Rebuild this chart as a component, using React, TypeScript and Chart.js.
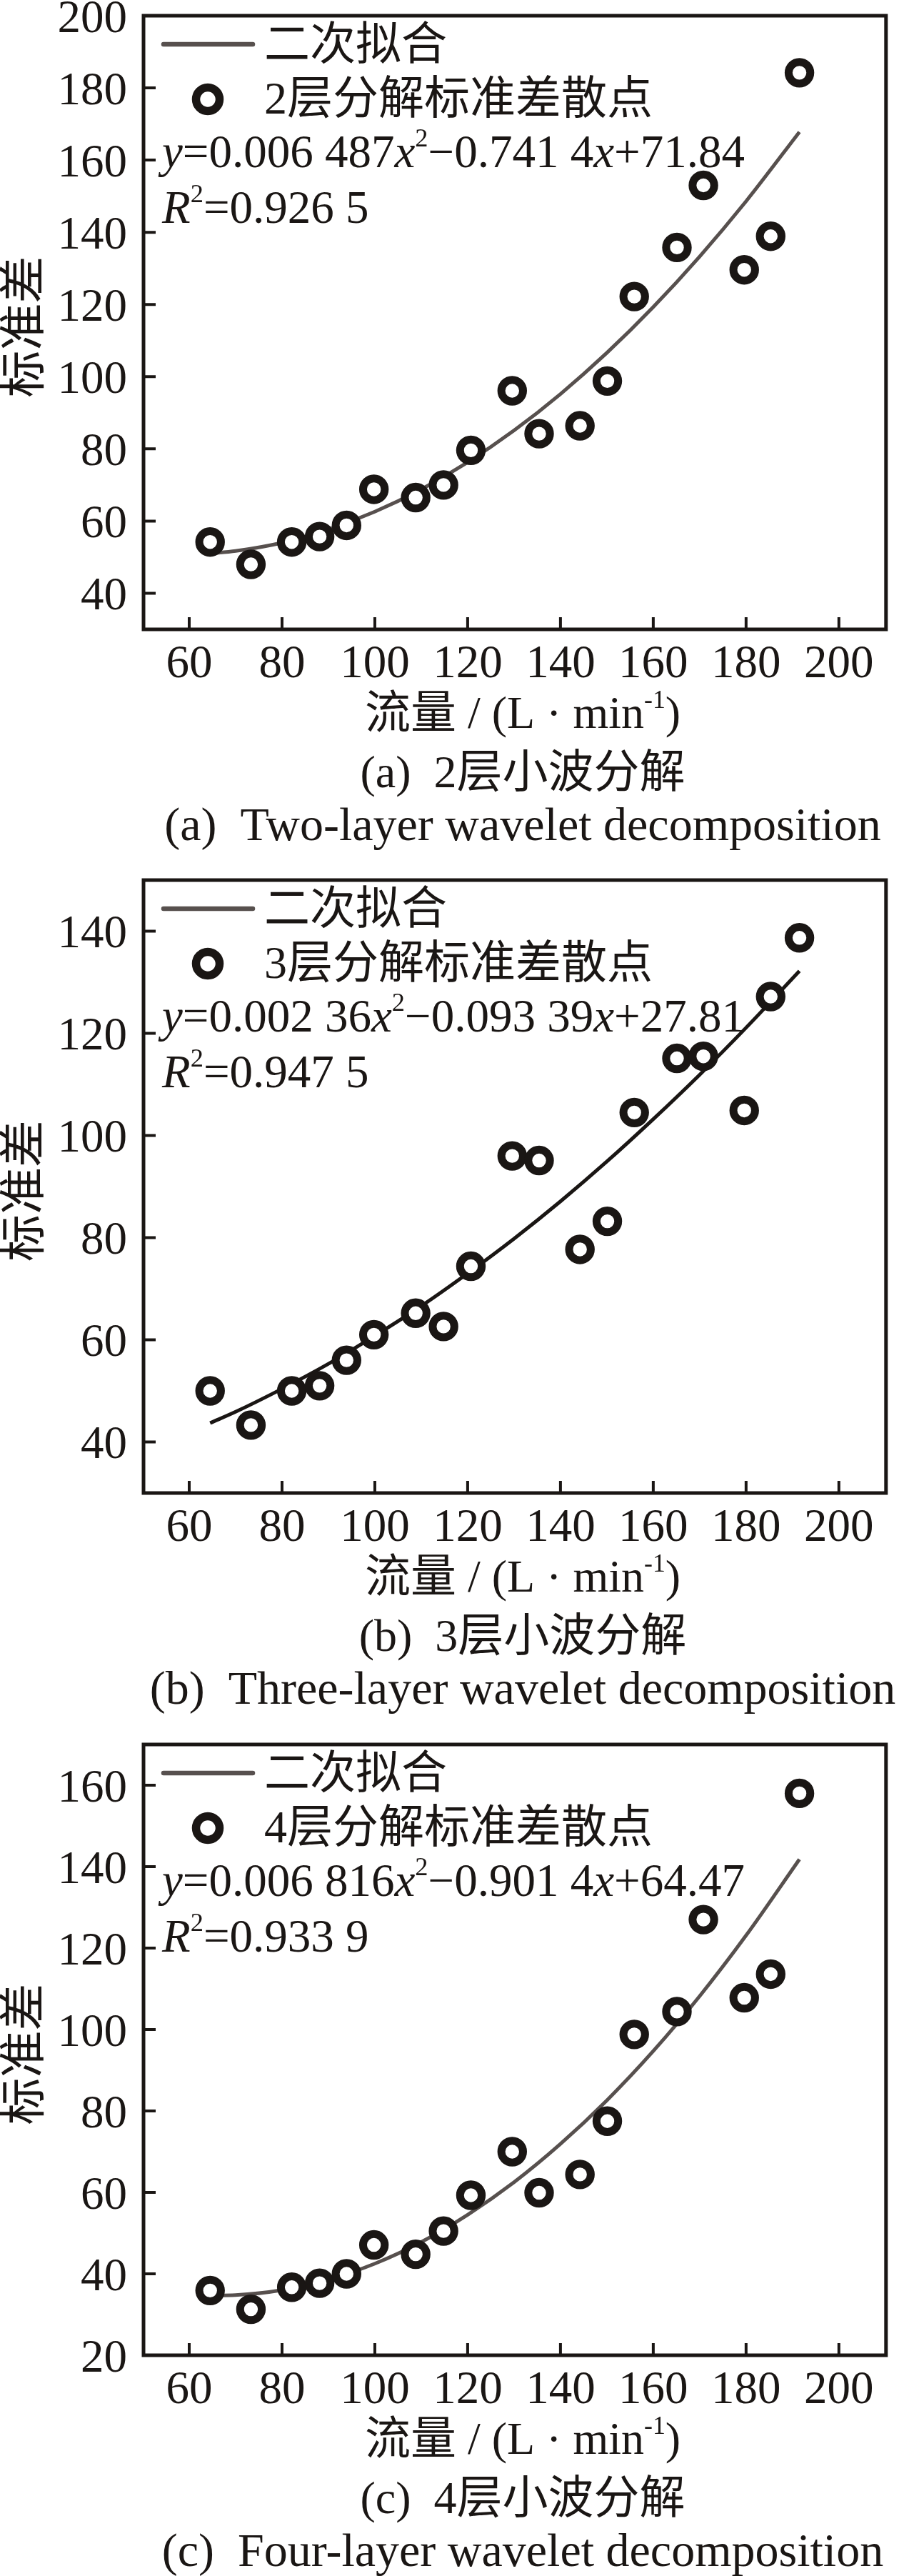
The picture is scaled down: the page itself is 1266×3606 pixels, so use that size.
import React, { useEffect, useRef } from 'react';
import { Chart, registerables } from 'chart.js';

Chart.register(...registerables);

// flow rate, L/min (same sampling in every panel)
const flow = [64.5, 73.3, 82.1, 88.1, 93.9, 99.8, 108.8, 114.8, 120.7, 129.6, 135.4, 144.2, 150.1, 155.9, 165.1, 170.8, 179.6, 185.3, 191.5];

// standard deviation of the decomposed signal
const std2 = [54.2, 48.0, 54.2, 55.7, 58.8, 68.8, 66.5, 70.0, 79.6, 96.1, 84.2, 86.4, 98.8, 122.2, 135.8, 153.0, 129.6, 138.9, 184.2];
const std3 = [50.0, 43.3, 50.0, 51.0, 56.0, 61.0, 65.2, 62.6, 74.4, 96.0, 95.1, 77.7, 83.2, 104.5, 115.1, 115.5, 104.9, 127.2, 138.7];
const std4 = [35.9, 31.3, 36.7, 37.7, 40.0, 47.1, 44.8, 50.5, 59.3, 70.0, 59.9, 64.4, 77.5, 98.8, 104.4, 127.0, 107.8, 113.6, 158.0];

// quadratic fit curves
const fitX = [64.5, 70, 80, 90, 100, 110, 120, 130, 140, 150, 160, 170, 180, 191.5];
const fit2 = [51.0, 51.7, 54.0, 57.7, 62.6, 68.8, 76.3, 85.1, 95.2, 106.6, 119.3, 133.3, 148.6, 167.8];
const fit3 = [43.7, 45.9, 50.4, 55.3, 60.8, 66.6, 73.0, 79.8, 87.1, 94.9, 103.2, 111.9, 121.1, 132.2];
const fit4 = [34.7, 34.8, 36.0, 38.6, 42.5, 47.8, 54.5, 62.5, 71.9, 82.6, 94.7, 108.2, 123.1, 141.8];

const xTicks = [60, 80, 100, 120, 140, 160, 180, 200];
const yTicks2 = [40, 60, 80, 100, 120, 140, 160, 180, 200];
const yTicks3 = [40, 60, 80, 100, 120, 140];
const yTicks4 = [20, 40, 60, 80, 100, 120, 140, 160];

const INK = '#1a1614';
const GREY = '#57504e';
const FAMILY = '"Liberation Serif", "Noto Sans CJK SC", serif';
const PAD_TOP = 45;
const BOTTOM = 318;

type Run = { t: string; it?: boolean; sup?: boolean };

function runFont(r: Run, size: number) {
  const s = r.sup ? size * 0.56 : size;
  return `${r.it ? 'italic ' : ''}${s}px ${FAMILY}`;
}

function drawRuns(ctx: CanvasRenderingContext2D, runs: Run[], x: number, y: number, size: number, align: 'left' | 'center') {
  ctx.textBaseline = 'alphabetic';
  ctx.textAlign = 'left';
  let total = 0;
  for (const r of runs) {
    ctx.font = runFont(r, size);
    total += ctx.measureText(r.t).width;
  }
  let cx = align === 'center' ? x - total / 2 : x;
  for (const r of runs) {
    ctx.font = runFont(r, size);
    ctx.fillText(r.t, cx, r.sup ? y - size * 0.44 : y);
    cx += ctx.measureText(r.t).width;
  }
}

const panels = [
  {
    std: std2, fit: fit2, yTicks: yTicks2, yMin: 30, yMax: 200,
    top: 22, height: 859, fitColor: GREY,
    scatterLabel: '2层分解标准差散点',
    eq: [{ t: 'y', it: true }, { t: '=0.006 487' }, { t: 'x', it: true }, { t: '2', sup: true }, { t: '−0.741 4' }, { t: 'x', it: true }, { t: '+71.84' }],
    r2: '=0.926 5',
    cap1: '(a)  2层小波分解',
    cap2: '(a)  Two-layer wavelet decomposition',
  },
  {
    std: std3, fit: fit3, yTicks: yTicks3, yMin: 30, yMax: 150,
    top: 1232, height: 858, fitColor: INK,
    scatterLabel: '3层分解标准差散点',
    eq: [{ t: 'y', it: true }, { t: '=0.002 36' }, { t: 'x', it: true }, { t: '2', sup: true }, { t: '−0.093 39' }, { t: 'x', it: true }, { t: '+27.81' }],
    r2: '=0.947 5',
    cap1: '(b)  3层小波分解',
    cap2: '(b)  Three-layer wavelet decomposition',
  },
  {
    std: std4, fit: fit4, yTicks: yTicks4, yMin: 20, yMax: 170,
    top: 2442, height: 855, fitColor: GREY,
    scatterLabel: '4层分解标准差散点',
    eq: [{ t: 'y', it: true }, { t: '=0.006 816' }, { t: 'x', it: true }, { t: '2', sup: true }, { t: '−0.901 4' }, { t: 'x', it: true }, { t: '+64.47' }],
    r2: '=0.933 9',
    cap1: '(c)  4层小波分解',
    cap2: '(c)  Four-layer wavelet decomposition',
  },
];

type PanelCfg = (typeof panels)[number];

function Panel({ p }: { p: PanelCfg }) {
  const ref = useRef<HTMLCanvasElement | null>(null);
  const h = PAD_TOP + p.height + BOTTOM;

  useEffect(() => {
    const canvas = ref.current;
    if (!canvas) return;

    const frame = {
      id: 'frame',
      afterDraw(chart: any) {
        const ctx: CanvasRenderingContext2D = chart.ctx;
        const { left, right, top, bottom } = chart.chartArea;
        const xs = chart.scales.x;
        const ys = chart.scales.y;
        ctx.save();
        ctx.strokeStyle = INK;
        ctx.fillStyle = INK;

        // plot frame
        ctx.lineWidth = 5;
        ctx.strokeRect(left + 1, top, right - left, bottom - top);

        // inward tick marks + tick labels
        ctx.lineWidth = 4;
        ctx.font = `65px ${FAMILY}`;
        ctx.textBaseline = 'alphabetic';
        ctx.beginPath();
        ctx.textAlign = 'center';
        for (const t of xs.ticks) {
          const px = xs.getPixelForValue(t.value);
          ctx.moveTo(px, bottom);
          ctx.lineTo(px, bottom - 17);
          ctx.fillText(String(t.value), px, bottom + 67);
        }
        ctx.textAlign = 'right';
        for (const t of ys.ticks) {
          const py = ys.getPixelForValue(t.value);
          ctx.fillText(String(t.value), 178, py + 22.5);
          if (t.value === p.yMin || t.value === p.yMax) continue;
          ctx.moveTo(left, py);
          ctx.lineTo(left + 18, py);
        }
        ctx.stroke();

        // legend
        ctx.strokeStyle = GREY;
        ctx.lineWidth = 6.5;
        ctx.lineCap = 'round';
        ctx.beginPath();
        ctx.moveTo(229, top + 40);
        ctx.lineTo(354, top + 40);
        ctx.stroke();
        ctx.lineCap = 'butt';
        ctx.strokeStyle = INK;
        ctx.lineWidth = 11.5;
        ctx.beginPath();
        ctx.arc(291, top + 117, 16.5, 0, Math.PI * 2);
        ctx.stroke();

        ctx.font = `64px ${FAMILY}`;
        ctx.textAlign = 'left';
        ctx.textBaseline = 'middle';
        ctx.fillText('二次拟合', 370, top + 44);
        ctx.fillText(p.scatterLabel, 370, top + 120);

        drawRuns(ctx, p.eq, 227, top + 212, 65, 'left');
        drawRuns(ctx, [{ t: 'R', it: true }, { t: '2', sup: true }, { t: p.r2 }], 227, top + 290, 65, 'left');

        // y axis title
        ctx.save();
        ctx.translate(38, (top + bottom) / 2 + 6);
        ctx.rotate(-Math.PI / 2);
        ctx.font = `66px ${FAMILY}`;
        ctx.textAlign = 'center';
        ctx.textBaseline = 'middle';
        ctx.fillText('标准差', 0, 0);
        ctx.restore();

        // x axis title and captions
        const cx = 732;
        drawRuns(ctx, [{ t: '流量 / (L · min' }, { t: '-1', sup: true }, { t: ')' }], cx, bottom + 138, 64, 'center');
        drawRuns(ctx, [{ t: p.cap1 }], cx, bottom + 221, 64, 'center');
        drawRuns(ctx, [{ t: p.cap2 }], cx, bottom + 295, 66, 'center');
        ctx.restore();
      },
    };

    const chart = new Chart(canvas, {
      type: 'scatter',
      data: {
        datasets: [
          {
            type: 'scatter',
            data: flow.map((x, i) => ({ x, y: p.std[i] })),
            pointRadius: 15.2,
            pointBorderWidth: 11,
            pointBorderColor: INK,
            pointBackgroundColor: '#ffffff',
            order: 0,
          },
          {
            type: 'line',
            data: fitX.map((x, i) => ({ x, y: p.fit[i] })),
            borderColor: p.fitColor,
            borderWidth: 5,
            pointRadius: 0,
            fill: false,
            cubicInterpolationMode: 'monotone',
            order: 1,
          },
        ],
      } as any,
      options: {
        responsive: false,
        animation: false,
        devicePixelRatio: 1,
        layout: { padding: { top: PAD_TOP, left: 0, right: 4, bottom: 0 } },
        plugins: { legend: { display: false }, tooltip: { enabled: false } },
        scales: {
          x: {
            type: 'linear',
            min: 50,
            max: 210,
            afterBuildTicks: (s: any) => {
              s.ticks = xTicks.map((v) => ({ value: v }));
            },
            afterFit: (s: any) => {
              s.height = BOTTOM;
            },
            grid: { display: false, drawTicks: false },
            border: { display: false },
            ticks: { display: false },
          },
          y: {
            type: 'linear',
            min: p.yMin,
            max: p.yMax,
            afterBuildTicks: (s: any) => {
              s.ticks = p.yTicks.map((v) => ({ value: v }));
            },
            afterFit: (s: any) => {
              s.width = 200;
            },
            grid: { display: false, drawTicks: false },
            border: { display: false },
            ticks: { display: false },
          },
        },
      } as any,
      plugins: [frame],
    });

    return () => chart.destroy();
  }, [p]);

  return (
    <canvas
      ref={ref}
      width={1266}
      height={h}
      style={{ position: 'absolute', left: 0, top: p.top - PAD_TOP, width: 1266, height: h }}
    />
  );
}

export default function App() {
  useEffect(() => {
    document.body.style.margin = '0';
    document.body.style.background = '#ffffff';
  }, []);

  return (
    <div style={{ position: 'relative', width: 1266, height: 3606, overflow: 'hidden', background: '#ffffff' }}>
      {panels.map((p, i) => (
        <Panel key={i} p={p} />
      ))}
    </div>
  );
}
